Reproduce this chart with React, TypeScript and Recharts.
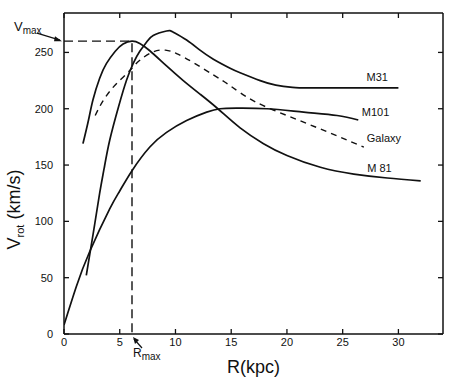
import React from 'react';
import { LineChart, Line, XAxis, YAxis, ReferenceDot } from 'recharts';

// Rotation curves: R (kpc), V (km/s)
const m31 = [
  { r: 2.0, v: 52 }, { r: 2.6, v: 88 }, { r: 3.2, v: 125 }, { r: 3.6, v: 147 },
  { r: 4.1, v: 172 }, { r: 4.9, v: 202 }, { r: 5.6, v: 225 }, { r: 6.2, v: 240 },
  { r: 6.8, v: 251 }, { r: 7.4, v: 259 }, { r: 8.0, v: 265 }, { r: 9.2, v: 269 },
  { r: 9.8, v: 268 }, { r: 11.0, v: 261 }, { r: 12.2, v: 252 }, { r: 13.4, v: 244 },
  { r: 14.9, v: 236 }, { r: 15.8, v: 232 }, { r: 17.6, v: 225 }, { r: 19.0, v: 221 },
  { r: 20.5, v: 219 }, { r: 22, v: 218.5 }, { r: 26, v: 218.5 }, { r: 30, v: 218.5 },
];

const m81 = [
  { r: 1.7, v: 169 }, { r: 2.2, v: 190 }, { r: 2.6, v: 208 }, { r: 3.2, v: 227 },
  { r: 3.8, v: 240 }, { r: 4.6, v: 251 }, { r: 5.3, v: 257.5 }, { r: 6.1, v: 260 },
  { r: 6.8, v: 258 }, { r: 7.7, v: 251.5 }, { r: 9.2, v: 238 }, { r: 10.7, v: 225 },
  { r: 12.2, v: 213 }, { r: 13.8, v: 200 }, { r: 15.8, v: 183 }, { r: 17.9, v: 169 },
  { r: 20, v: 158.5 }, { r: 23, v: 148 }, { r: 26, v: 142 }, { r: 29, v: 138.5 },
  { r: 32, v: 136 },
];

const m101 = [
  { r: 0, v: 8 }, { r: 1.1, v: 42 }, { r: 2.3, v: 73 }, { r: 4.1, v: 111 },
  { r: 5.0, v: 127 }, { r: 6.1, v: 145 }, { r: 7.7, v: 166 }, { r: 9.2, v: 179 },
  { r: 11.0, v: 189.5 }, { r: 12.8, v: 197 }, { r: 14.0, v: 200 }, { r: 15.5, v: 200.5 },
  { r: 18.2, v: 200 }, { r: 21.5, v: 197 }, { r: 24.5, v: 194 }, { r: 26.4, v: 190 },
];

const galaxy = [
  { r: 2.8, v: 194 }, { r: 3.5, v: 207 }, { r: 4.4, v: 219 }, { r: 5.3, v: 228 },
  { r: 6.1, v: 236 }, { r: 6.8, v: 243 }, { r: 8.0, v: 250.5 }, { r: 9.1, v: 252 },
  { r: 10.1, v: 249 }, { r: 11.6, v: 241 }, { r: 13.4, v: 230 }, { r: 14.9, v: 220.5 },
  { r: 17.0, v: 207 }, { r: 20.0, v: 194 }, { r: 23.0, v: 182 }, { r: 26.9, v: 166 },
];

// Vmax / Rmax guide (dashed)
const rMax = 6.1;
const vMax = 260;
const guide = [
  { r: 0, v: vMax }, { r: rMax, v: vMax }, { r: rMax, v: 0 },
];

const xTicks = [0, 5, 10, 15, 20, 25, 30];
const yTicks = [0, 50, 100, 150, 200, 250];

const curveLabels = [
  { name: 'M31', r: 28.1, v: 228.5 },
  { name: 'M101', r: 27.95, v: 196.6 },
  { name: 'Galaxy', r: 28.7, v: 173.6 },
  { name: 'M 81', r: 28.3, v: 147.5 },
];

const FONT = '"Liberation Sans", Arial, Helvetica, sans-serif';
const tickStyle = { fontSize: 11, fill: '#111', fontFamily: FONT };
const blank = () => '';
const axisLine = { stroke: '#111', strokeWidth: 1.5 };
const tickLine = { stroke: '#111', strokeWidth: 1.3 };

const VmaxLabel = (props: any) => {
  const { x, y } = props.viewBox;
  return (
    <g>
      <text x={x - 50} y={y - 10} fontFamily={FONT} fill="#111">
        <tspan fontSize={13}>V</tspan>
        <tspan fontSize={10} dy={3}>max</tspan>
      </text>
      <line x1={x - 27} y1={y - 8} x2={x - 4} y2={y - 1} stroke="#111" strokeWidth={1.2} />
      <path d={`M${x - 2},${y} L${x - 9},${y - 5} L${x - 10},${y} Z`} fill="#111" />
    </g>
  );
};

const RmaxLabel = (props: any) => {
  const { x, y } = props.viewBox;
  return (
    <g>
      <line x1={x + 10} y1={y + 14} x2={x + 2} y2={y + 5} stroke="#111" strokeWidth={1.2} />
      <path d={`M${x + 1},${y + 3} L${x + 3},${y + 10} L${x + 7},${y + 6} Z`} fill="#111" />
      <text x={x + 1} y={y + 23} fontFamily={FONT} fill="#111">
        <tspan fontSize={12}>R</tspan>
        <tspan fontSize={10} dy={3}>max</tspan>
      </text>
    </g>
  );
};

const YTitle = (props: any) => {
  const { x, y, height } = props.viewBox;
  const cx = x + 20;
  const cy = y + height / 2 + 36;
  return (
    <text x={cx} y={cy} transform={`rotate(-90, ${cx}, ${cy})`} textAnchor="middle"
      fontFamily={FONT} fill="#111">
      <tspan fontSize={18}>V</tspan>
      <tspan fontSize={11} dy={4}>rot</tspan>
      <tspan fontSize={18} dy={-4}> (km/s)</tspan>
    </text>
  );
};

const XTitle = (props: any) => {
  const { x, y, width } = props.viewBox;
  return (
    <text x={x + width / 2} y={y + 39} textAnchor="middle" fontFamily={FONT}
      fontSize={18} fill="#111">
      R(kpc)
    </text>
  );
};

export default function App() {
  return (
    <div style={{ position: 'absolute', left: 0, top: 0, background: '#fff' }}>
      <LineChart width={452} height={379} margin={{ top: 12, right: 8, bottom: 0, left: 0 }}>
        <XAxis xAxisId="b" type="number" dataKey="r" domain={[0, 34]} ticks={xTicks}
          allowDataOverflow height={45} tickSize={-5} tickMargin={9} tick={tickStyle}
          axisLine={axisLine} tickLine={tickLine} label={<XTitle />} />
        <XAxis xAxisId="t" orientation="top" type="number" dataKey="r" domain={[0, 34]}
          ticks={xTicks} allowDataOverflow height={1} tickSize={-5} tickFormatter={blank}
          axisLine={axisLine} tickLine={tickLine} />
        <YAxis yAxisId="l" type="number" domain={[0, 285]} ticks={yTicks} allowDataOverflow
          width={64} tickSize={-5} tickMargin={16} tick={tickStyle}
          axisLine={axisLine} tickLine={tickLine} label={<YTitle />} />
        <YAxis yAxisId="r" orientation="right" type="number" domain={[0, 285]} ticks={yTicks}
          allowDataOverflow width={1} tickSize={-5} tickFormatter={blank}
          axisLine={axisLine} tickLine={tickLine} />

        <Line xAxisId="t" yAxisId="l" data={guide} dataKey="v" type="linear" stroke="#111"
          strokeWidth={1.4} strokeDasharray="9 5" dot={false} isAnimationActive={false} />
        <Line xAxisId="b" yAxisId="l" data={m31} dataKey="v" type="natural" stroke="#111"
          strokeWidth={1.7} dot={false} isAnimationActive={false} />
        <Line xAxisId="b" yAxisId="l" data={m81} dataKey="v" type="natural" stroke="#111"
          strokeWidth={1.7} dot={false} isAnimationActive={false} />
        <Line xAxisId="b" yAxisId="l" data={m101} dataKey="v" type="natural" stroke="#111"
          strokeWidth={1.7} dot={false} isAnimationActive={false} />
        <Line xAxisId="b" yAxisId="r" data={galaxy} dataKey="v" type="natural" stroke="#111"
          strokeWidth={1.4} strokeDasharray="6 5" dot={false} isAnimationActive={false} />

        {curveLabels.map((c) => (
          <ReferenceDot key={c.name} xAxisId="b" yAxisId="l" x={c.r} y={c.v} r={0}
            stroke="none" fill="none"
            label={{ value: c.name, position: 'center', fontSize: 11, fill: '#111', fontFamily: FONT }} />
        ))}
        <ReferenceDot xAxisId="b" yAxisId="l" x={0} y={vMax} r={0} stroke="none" fill="none"
          ifOverflow="visible" label={<VmaxLabel />} />
        <ReferenceDot xAxisId="b" yAxisId="l" x={rMax} y={0} r={0} stroke="none" fill="none"
          ifOverflow="visible" label={<RmaxLabel />} />
      </LineChart>
    </div>
  );
}
